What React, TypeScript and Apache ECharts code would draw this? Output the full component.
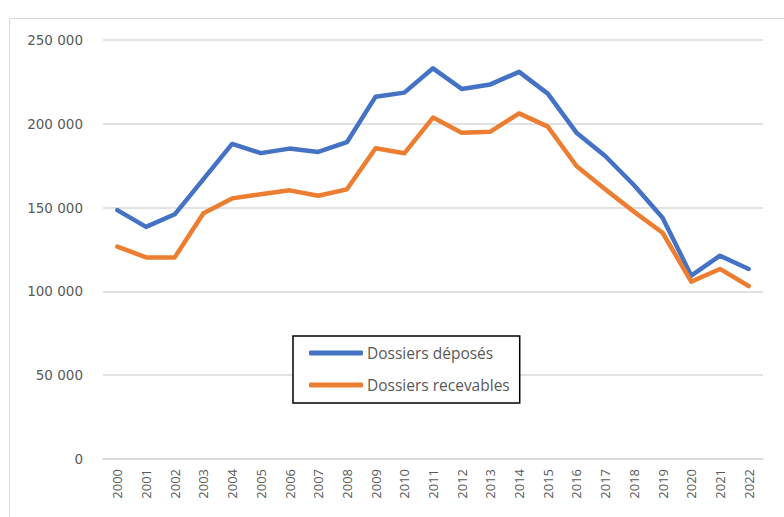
import React, { useEffect, useRef } from "react";
import * as echarts from "echarts";

const years = ["2000","2001","2002","2003","2004","2005","2006","2007","2008","2009","2010","2011","2012","2013","2014","2015","2016","2017","2018","2019","2020","2021","2022"];
const deposes = [148500, 138500, 146000, 167000, 188000, 182500, 185200, 183200, 189000, 216200, 218600, 233100, 220800, 223500, 231000, 218000, 194700, 180800, 163500, 144000, 109400, 121300, 113400];
const recevables = [126700, 120300, 120300, 146600, 155500, 158000, 160300, 157100, 160900, 185400, 182400, 203700, 194700, 195300, 206200, 198300, 174800, 160900, 147600, 135000, 105800, 113400, 103200];
const seriesNames = ["Dossiers déposés", "Dossiers recevables"];

const fmt = (v: number) => String(v).replace(/\B(?=(\d{3})+(?!\d))/g, " ");

export default function App() {
  const ref = useRef<HTMLDivElement>(null);
  useEffect(() => {
    document.body.style.margin = "0";
    const chart = echarts.init(ref.current!, null, { renderer: "svg" });
    const font = "Open Sans";
    chart.setOption({
      animation: false,
      backgroundColor: "#ffffff",
      graphic: [
        {
          type: "rect",
          shape: { x: 9.5, y: 18.5, width: 800, height: 600 },
          style: { fill: "none", stroke: "#d9d9d9", lineWidth: 1 },
          silent: true,
        },
      ],
      grid: { left: 103, right: 21, top: 40, bottom: 58 },
      xAxis: {
        type: "category",
        data: years,
        boundaryGap: true,
        axisLine: { lineStyle: { color: "#d9d9d9", width: 1.5 } },
        axisTick: { show: false },
        axisLabel: {
          rotate: 90,
          color: "#595959",
          fontFamily: font,
          fontSize: 13,
          margin: 10,
          interval: 0,
        },
      },
      yAxis: {
        type: "value",
        min: 0,
        max: 250000,
        interval: 50000,
        axisLine: { show: false },
        axisTick: { show: false },
        splitLine: { lineStyle: { color: "#d9d9d9", width: 1.5 } },
        axisLabel: {
          color: "#595959",
          fontFamily: "DejaVu Sans",
          fontSize: 13.5,
          margin: 20,
          formatter: (v: number) => fmt(v),
        },
      },
      legend: {
        orient: "vertical",
        left: 293,
        top: 336,
        backgroundColor: "#ffffff",
        borderColor: "#000000",
        borderWidth: 1.5,
        padding: [9, 10, 10, 16],
        itemWidth: 54,
        itemHeight: 5,
        itemGap: 16,
        icon: "roundRect",
        textStyle: { color: "#595959", fontFamily: font, fontSize: 15.5, padding: [0, 0, 0, -1] },
        data: seriesNames,
      },
      series: [
        {
          name: seriesNames[0],
          type: "line",
          data: deposes,
          symbol: "none",
          color: "#4472C4",
          lineStyle: { width: 4.5, color: "#4472C4", cap: "round", join: "round" },
        },
        {
          name: seriesNames[1],
          type: "line",
          data: recevables,
          symbol: "none",
          color: "#ED7D31",
          lineStyle: { width: 4.5, color: "#ED7D31", cap: "round", join: "round" },
        },
      ],
    });
    return () => chart.dispose();
  }, []);
  return <div ref={ref} style={{ width: 784, height: 517 }} />;
}
